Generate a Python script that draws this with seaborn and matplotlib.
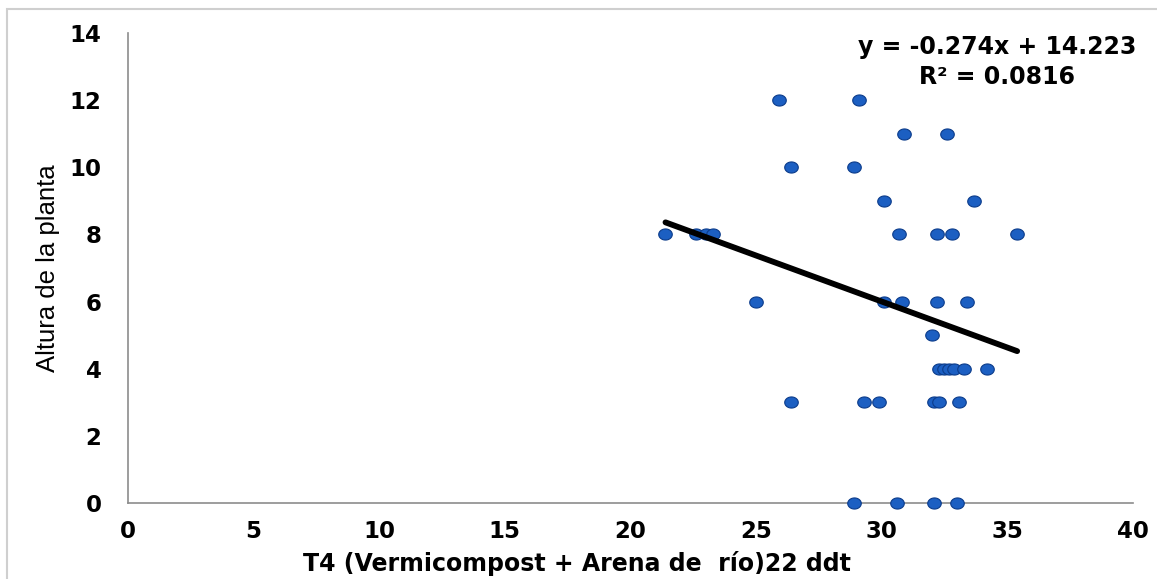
import numpy as np
import pandas as pd
import matplotlib
matplotlib.use("Agg")
import matplotlib.pyplot as plt
from matplotlib.path import Path
from matplotlib.patches import Rectangle
import seaborn as sns

# ---- data ----
x_vals = [25.9, 29.1,
          30.9, 32.6,
          26.4, 28.9,
          30.1, 33.7,
          21.4, 22.6, 23.0, 23.3, 30.7, 32.2, 32.8, 35.4,
          25.0, 30.1, 30.8, 32.2, 33.4,
          32.0,
          32.3, 32.5, 32.7, 32.9, 33.3, 34.2,
          26.4, 29.3, 29.9, 32.1, 32.3, 33.1,
          28.9, 30.6, 32.1, 33.0]
y_vals = [12, 12,
          11, 11,
          10, 10,
          9, 9,
          8, 8, 8, 8, 8, 8, 8, 8,
          6, 6, 6, 6, 6,
          5,
          4, 4, 4, 4, 4, 4,
          3, 3, 3, 3, 3, 3,
          0, 0, 0, 0]
slope = -0.274
intercept = 14.223
r2 = 0.0816
x_ticks = [0, 5, 10, 15, 20, 25, 30, 35, 40]
y_ticks = [0, 2, 4, 6, 8, 10, 12, 14]
x_label = "T4 (Vermicompost + Arena de  río)22 ddt"
y_label = "Altura de la planta"

df = pd.DataFrame({"x": x_vals, "y": y_vals})

sns.set_theme(style="white")
plt.rcParams["font.family"] = ["DejaVu Sans"]
plt.rcParams["text.color"] = "black"
plt.rcParams["axes.labelcolor"] = "black"
plt.rcParams["xtick.color"] = "black"
plt.rcParams["ytick.color"] = "black"

fig = plt.figure(figsize=(11.57, 5.79), dpi=100)
ax = fig.add_axes([0.1106, 0.1313, 0.979 - 0.1106, 0.943 - 0.1313])

# ellipse marker (wider than tall)
t = np.linspace(0, 2 * np.pi, 60)
ell = Path(np.column_stack([1.22 * np.cos(t), np.sin(t)]), closed=True)

sns.scatterplot(data=df, x="x", y="y", ax=ax, marker=ell, s=95,
                color="#1c5fc2", edgecolor="#0b3b8a", linewidth=0.8,
                zorder=3, clip_on=False)

# trend line from fitted equation
xl = np.array([min(x_vals), max(x_vals)])
line_df = pd.DataFrame({"x": xl, "y": slope * xl + intercept})
sns.lineplot(data=line_df, x="x", y="y", ax=ax, color="black",
             linewidth=4.2, zorder=4)

ax.set_xlim(0, 40)
ax.set_ylim(0, 14)
ax.set_xticks(x_ticks)
ax.set_yticks(y_ticks)
ax.tick_params(axis="both", length=0, labelsize=16.5, colors="black")
ax.tick_params(axis="x", pad=12)
ax.tick_params(axis="y", pad=19)
for lab in ax.get_xticklabels() + ax.get_yticklabels():
    lab.set_fontweight("bold")
    lab.set_family("DejaVu Sans")

for side in ["top", "right"]:
    ax.spines[side].set_visible(False)
for side in ["left", "bottom"]:
    ax.spines[side].set_color("#8c8c8c")
    ax.spines[side].set_linewidth(1.2)

ax.set_xlabel(x_label, fontsize=17, fontweight="bold", family="DejaVu Sans")
ax.xaxis.set_label_coords(0.447, -0.103)
ax.set_ylabel(y_label, fontsize=18.5, family="Liberation Sans")
ax.yaxis.set_label_coords(-0.068, 0.5)

ax.text(0.865, 0.970, f"y = {slope}x + {intercept}", transform=ax.transAxes,
        ha="center", va="center", fontsize=17, fontweight="bold")
ax.text(0.865, 0.906, f"R² = {r2}", transform=ax.transAxes,
        ha="center", va="center", fontsize=17, fontweight="bold")

fig.patches.append(Rectangle((0.006, -0.05), 1.2, 1.034, transform=fig.transFigure,
                             fill=False, edgecolor="#cfcfcf", linewidth=1.5))

fig.savefig("out.png", dpi=100)
